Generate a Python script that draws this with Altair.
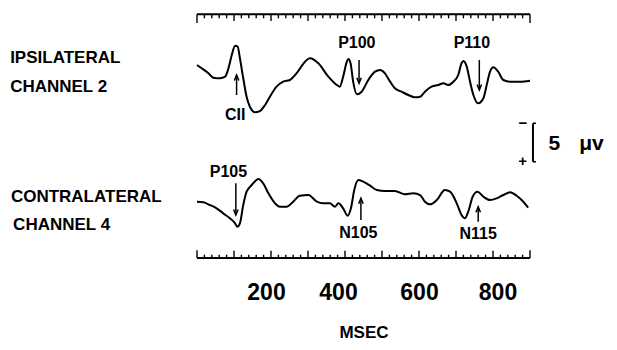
import altair as alt
import pandas as pd

# ---------------- data ----------------
# time in ms, amplitude in microvolts (positive plotted downward, "-" up)
ipsi_ms = [0, 13, 31, 44, 62, 76, 85, 94, 103, 110, 116, 125, 134, 143, 157, 170, 184, 197, 215, 233,
           251, 269, 292, 305, 328, 355, 378, 386, 395, 405, 409, 415, 422, 432, 445, 463, 481, 495, 508, 522,
           535, 553, 571, 589, 603, 616, 634, 652, 666, 679, 693, 706, 715, 720, 729, 738, 747, 760, 774, 783,
           792, 801, 814, 828, 846, 873, 900]
ipsi_uv = [-1.95, -1.52, -0.87, -0.30, -0.22, -0.43, -1.52, -3.25, -4.45, -4.32, -2.82, -0.22, 2.17, 3.47, 4.19, 4.03, 3.25, 2.17, 0.87, 0.22,
           0.0, -0.87, -2.38, -2.82, -2.17, -0.43, 0.65, 0.87, -0.43, -2.38, -2.73, -2.17, 0.22, 1.86, 1.52, 0.0, -1.08, -1.30, -0.87, 0.22,
           1.08, 1.52, 1.95, 2.25, 2.17, 1.52, 0.87, 0.65, 0.43, 0.65, 0.22, -0.65, -2.17, -2.47, -1.73, 0.22, 1.95, 3.03, 2.38, 0.65,
           -1.08, -1.65, -1.08, 0.0, 0.22, 0.22, 0.09]

contra_ms = [0, 17, 35, 53, 71, 89, 103, 109, 116, 125, 134, 148, 166, 179, 193, 211, 224, 242, 260, 278,
             301, 324, 341, 359, 373, 382, 395, 407, 416, 425, 436, 449, 468, 486, 508, 535, 562, 585, 603, 616,
             630, 648, 670, 684, 702, 715, 724, 733, 745, 758, 774, 792, 810, 828, 846, 864, 882, 895]
contra_uv = [0.22, 0.30, 0.65, 1.08, 1.73, 2.38, 3.03, 3.47, 3.03, 0.65, -1.08, -1.95, -2.73, -2.17, -0.87, 0.43, 0.87, 0.87, 0.22, -0.56,
             -0.65, 0.22, 0.43, 0.43, 0.87, 0.43, 1.08, 2.04, 1.08, -1.30, -2.60, -2.38, -1.86, -1.30, -1.17, -1.17, -0.74, -0.87, -0.65, 0.22,
             0.56, 0.0, -1.30, -1.08, 0.43, 1.95, 2.38, 1.52, -0.43, -1.08, -0.43, 0.0, -0.22, -0.65, -1.00, -0.56, 0.22, 1.00]

# vertical placement of each channel baseline (microvolt units from top of frame)
ipsi_offset = 8.70
contra_offset = 24.29

# peak annotations
peak_labels = ["CII", "P100", "P110", "P105", "N105", "N115"]
peak_label_ms = [103, 432, 743, 85, 436, 760]
peak_label_y = [13.90, 4.59, 4.59, 21.26, 29.26, 29.35]
arrow_ms = [107, 438, 763, 105, 443, 760]
arrow_tail = [10.65, 6.10, 6.10, 22.12, 26.88, 27.10]
arrow_head = [8.05, 9.13, 10.00, 26.23, 24.06, 25.16]

# channel names
chan_labels = ["IPSILATERAL", "CHANNEL 2", "CONTRALATERAL", "CHANNEL 4"]
chan_ms = [-505, -505, -503, -497]
chan_y = [6.49, 10.26, 24.55, 28.18]

# calibration bar
bar_uv = 5.0
bar_top = 14.32
bar_ms = 908
calib_texts = ["5", "\u03bcv"]
calib_ms = [950, 1033]

# time axis
x_max = 900
tick_labels = [200, 400, 600, 800]
ruler_ms = list(range(0, x_max + 1, 20))
Y_MAX = 31.82

FONT = "Liberation Sans"

# ---------------- frames ----------------
traces = pd.concat([
    pd.DataFrame({"ms": ipsi_ms, "y": [ipsi_offset + v for v in ipsi_uv], "ch": "ipsi"}),
    pd.DataFrame({"ms": contra_ms, "y": [contra_offset + v for v in contra_uv], "ch": "contra"}),
])

rules = []
# top ruler
rules.append(dict(ms=0, ms2=x_max, y=0.17, y2=0.17, w=2.0))
# bottom ruler
rules.append(dict(ms=0, ms2=x_max, y=Y_MAX, y2=Y_MAX, w=2.0))
for t in ruler_ms:
    end = t in (0, x_max)
    major = t % 100 == 0
    top_len = 1.13 if end else (0.87 if major else 0.52)
    bot_len = 1.0 if end else (0.95 if major else 0.43)
    rules.append(dict(ms=t, ms2=t, y=0.17, y2=0.17 + top_len, w=1.4))
    rules.append(dict(ms=t, ms2=t, y=Y_MAX, y2=Y_MAX - bot_len, w=1.4))
# calibration bracket
rules.append(dict(ms=bar_ms, ms2=bar_ms, y=bar_top, y2=bar_top + bar_uv, w=2.0))
rules.append(dict(ms=bar_ms, ms2=bar_ms + 8, y=bar_top, y2=bar_top, w=1.6))
rules.append(dict(ms=bar_ms, ms2=bar_ms + 8, y=bar_top + bar_uv, y2=bar_top + bar_uv, w=1.6))
# arrow shafts
for m, t, h in zip(arrow_ms, arrow_tail, arrow_head):
    rules.append(dict(ms=m, ms2=m, y=t, y2=h, w=1.5))
rules = pd.DataFrame(rules)

UP = "M-0.45,1.1L0,0L0.45,1.1"
DOWN = "M-0.45,-1.1L0,0L0.45,-1.1"
heads = pd.DataFrame({
    "ms": arrow_ms,
    "y": arrow_head,
    "shape": [UP if h < t else DOWN for t, h in zip(arrow_tail, arrow_head)],
})

peaks = pd.DataFrame({"ms": peak_label_ms, "y": peak_label_y, "text": peak_labels})
chans = pd.DataFrame({"ms": chan_ms, "y": chan_y, "text": chan_labels})
calib_text = pd.DataFrame({"ms": calib_ms, "y": [bar_top + 3.47] * 2, "text": calib_texts})
signs = pd.DataFrame({"ms": [881, 880], "y": [bar_top + 0.62, bar_top + bar_uv + 0.58], "text": ["\u2212", "+"]})

# ---------------- encodings ----------------
x_axis = alt.Axis(
    values=tick_labels, title="MSEC", domain=False, ticks=False, tickSize=0, grid=False,
    labelFont=FONT, labelFontSize=23, labelFontWeight="bold", labelColor="black",
    labelBaseline="alphabetic", labelPadding=41.7, labelFlush=False, labelOverlap=False,
    labelOffset={"condition": [
        {"test": "datum.value == 200", "value": -5},
        {"test": "datum.value == 400", "value": -7},
        {"test": "datum.value == 800", "value": 4.5},
    ], "value": 0},
    titleFont=FONT, titleFontSize=17, titleFontWeight="bold", titleColor="black",
    titleBaseline="alphabetic", titleY=79,
)
x_scale = alt.Scale(domain=[0, x_max], nice=False, zero=False)
y_scale = alt.Scale(domain=[0, Y_MAX], reverse=True, nice=False, zero=False)


def X(field="ms"):
    return alt.X(f"{field}:Q", scale=x_scale, axis=x_axis)


def Y(field="y"):
    return alt.Y(f"{field}:Q", scale=y_scale, axis=None)


lines = alt.Chart(traces).mark_line(color="black", strokeWidth=2, interpolate="monotone").encode(
    x=X(), y=Y(), detail="ch:N"
)

rule_layer = alt.Chart(rules).mark_rule(color="black").encode(
    x=X(), x2="ms2:Q", y=Y(), y2="y2:Q", strokeWidth=alt.StrokeWidth("w:Q", scale=None)
)

head_layer = alt.Chart(heads).mark_point(filled=False, color="black", strokeWidth=1.5, opacity=1, size=100).encode(
    x=X(), y=Y(), shape=alt.Shape("shape:N", scale=None)
)

peak_text = alt.Chart(peaks).mark_text(
    font=FONT, fontSize=16, fontWeight="bold", color="black", align="center", baseline="alphabetic"
).encode(x=X(), y=Y(), text="text:N")

chan_text = alt.Chart(chans).mark_text(
    font=FONT, fontSize=17, fontWeight="bold", color="black", align="left", baseline="alphabetic"
).encode(x=X(), y=Y(), text="text:N")

calib_layer = alt.Chart(calib_text).mark_text(
    font=FONT, fontSize=21, fontWeight="bold", color="black", align="left", baseline="alphabetic"
).encode(x=X(), y=Y(), text="text:N")

sign_layer = alt.Chart(signs).mark_text(
    font=FONT, fontSize=15, fontWeight="bold", color="black", align="center", baseline="alphabetic"
).encode(x=X(), y=Y(), text="text:N")

chart = alt.layer(
    rule_layer, lines, head_layer, peak_text, chan_text, calib_layer, sign_layer
).properties(
    width=333, height=245,
    padding={"left": 189, "top": 5, "right": 79, "bottom": 84},
    autosize=alt.AutoSizeParams(type="none"),
    background="white",
).configure_view(stroke=None)

chart.save("out.html", embed_options={"renderer": "svg", "actions": False})
